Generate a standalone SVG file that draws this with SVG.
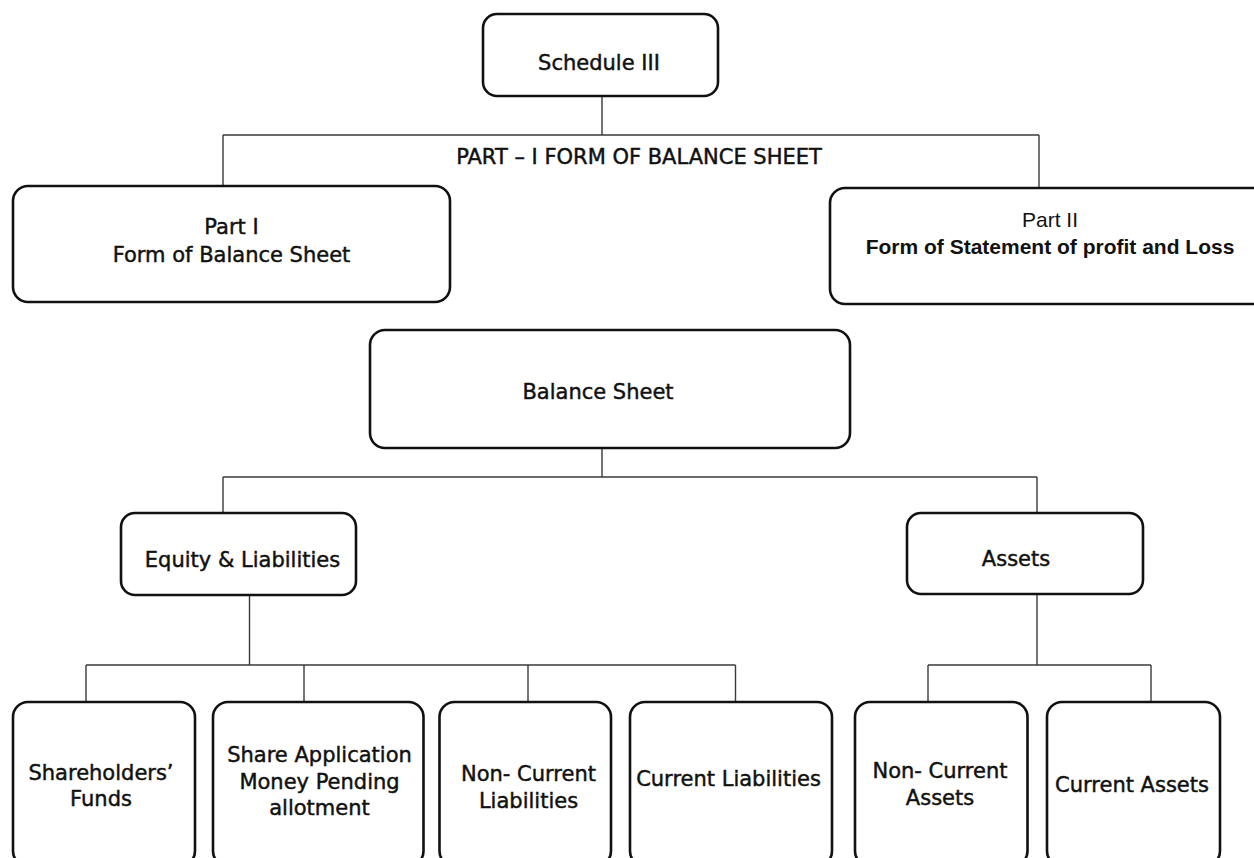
<svg xmlns="http://www.w3.org/2000/svg" width="1254" height="858" viewBox="0 0 1254 858">
<style>
.box{fill:#fff;stroke:#111;stroke-width:2.6}
.con{fill:none;stroke:#3a3a3a;stroke-width:1.4}
.t{font-family:"DejaVu Sans","Liberation Sans",sans-serif;font-size:21px;fill:#111;stroke:#111;stroke-width:0.45;text-anchor:middle}
.a{font-family:"Liberation Sans",Arial,sans-serif;font-size:21px;fill:#111;text-anchor:middle}
.ab{font-family:"Liberation Sans",Arial,sans-serif;font-size:21px;font-weight:bold;fill:#111;text-anchor:middle}
</style>
<rect width="1254" height="858" fill="#fff"/>
<g id="connectors">
<path class="con" d="M602,96V135M223,135H1039M223,135V186M1039,135V188"/>
<path class="con" d="M602,448V477M223,477H1037M223,477V513M1037,477V513"/>
<path class="con" d="M249.5,595V665M86,665H735.5M86,665V702M304,665V702M528,665V702M735.5,665V702"/>
<path class="con" d="M1037,594V665M928,665H1151M928,665V702M1151,665V702"/>
</g>
<g id="schedule">
<rect class="box" x="483" y="14" width="235" height="82" rx="14"/>
<text class="t" x="599" y="69.5">Schedule III</text>
</g>
<g id="part-label">
<text class="t" x="639" y="163.5">PART – I FORM OF BALANCE SHEET</text>
</g>
<g id="part1">
<rect class="box" x="13" y="186" width="437" height="116" rx="15"/>
<text class="t" x="231.5" y="234">Part I</text>
<text class="t" x="231.5" y="261.5">Form of Balance Sheet</text>
</g>
<g id="part2">
<rect class="box" x="830" y="188" width="440" height="116" rx="15"/>
<text class="a" x="1050" y="227">Part II</text>
<text class="ab" x="1050" y="254">Form of Statement of profit and Loss</text>
</g>
<g id="balance-sheet">
<rect class="box" x="370" y="330" width="480" height="118" rx="15"/>
<text class="t" x="598" y="399">Balance Sheet</text>
</g>
<g id="equity">
<rect class="box" x="121" y="513" width="235" height="82" rx="14"/>
<text class="t" x="242.5" y="566.5">Equity &amp; Liabilities</text>
</g>
<g id="assets">
<rect class="box" x="907" y="513" width="236" height="81" rx="14"/>
<text class="t" x="1016" y="565.5">Assets</text>
</g>
<g id="shareholders">
<rect class="box" x="13" y="702" width="182" height="164" rx="15"/>
<text class="t" x="101" y="780">Shareholders’</text>
<text class="t" x="101" y="806">Funds</text>
</g>
<g id="share-application">
<rect class="box" x="213" y="702" width="210.5" height="164" rx="15"/>
<text class="t" x="319.5" y="762">Share Application</text>
<text class="t" x="319.5" y="788.5">Money Pending</text>
<text class="t" x="319.5" y="815">allotment</text>
</g>
<g id="non-current-liabilities">
<rect class="box" x="439.5" y="702" width="171.5" height="164" rx="15"/>
<text class="t" x="528.5" y="781">Non- Current</text>
<text class="t" x="528.5" y="808">Liabilities</text>
</g>
<g id="current-liabilities">
<rect class="box" x="630" y="702" width="202" height="164" rx="15"/>
<text class="t" x="728.5" y="785.5">Current Liabilities</text>
</g>
<g id="non-current-assets">
<rect class="box" x="855" y="702" width="172.5" height="164" rx="15"/>
<text class="t" x="940" y="778">Non- Current</text>
<text class="t" x="940" y="805">Assets</text>
</g>
<g id="current-assets">
<rect class="box" x="1047" y="702" width="173" height="164" rx="15"/>
<text class="t" x="1132" y="791.5">Current Assets</text>
</g>
</svg>
